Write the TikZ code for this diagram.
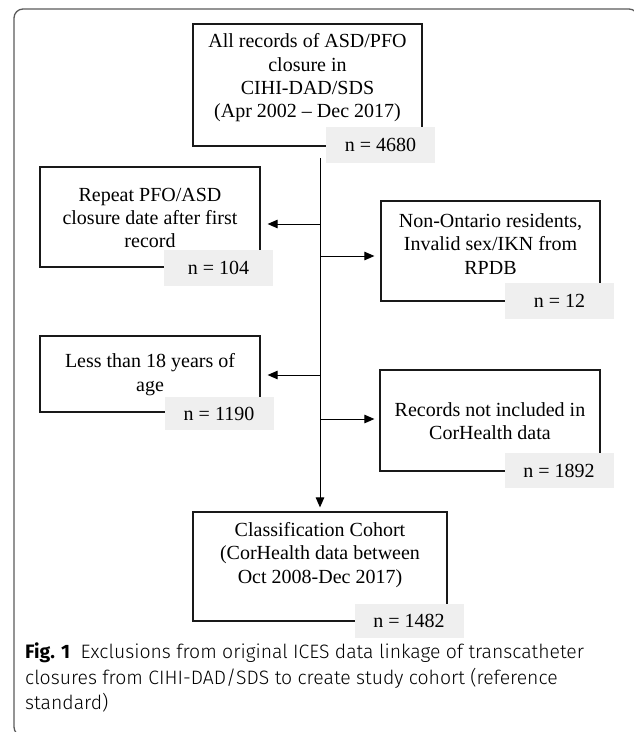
\documentclass[tikz,border=0pt]{standalone}
\usepackage{fontspec}
\setmainfont{Liberation Serif}
\IfFontExistsTF{Fira Sans Light}{\newfontfamily\capfont{Fira Sans Light}}{\newfontfamily\capfont{Fira Sans}}
\newfontfamily\capboldfont{Fira Sans}
\usetikzlibrary{arrows.meta}
\definecolor{nfill}{HTML}{EFEFEF}
\definecolor{framec}{HTML}{5A5A5A}
\begin{document}
\begin{tikzpicture}[x=1pt,y=-1pt,
  box/.style={draw=black!90,line width=1.2pt,minimum width=#1,inner sep=0pt},
  txt/.style={align=center,font=\fontsize{20}{23.3}\selectfont,inner sep=0pt},
  nbox/.style={fill=nfill,minimum width=109pt,minimum height=36pt,inner sep=0pt,font=\fontsize{20}{23}\selectfont},
  arr/.style={line width=1pt,-{Triangle[length=10pt,width=8.5pt]}}]
\useasboundingbox (0,0) rectangle (633,732);
% outer frame
\draw[framec,line width=1.3pt,rounded corners=9pt] (638,40) -- (638,9) -- (14,9) -- (14,736) -- (60,736);
% boxes
\node[box=229pt,minimum height=122pt] (top) at (307.5,85) {};
\node[txt] (topT) at (307.5,78) {All records of ASD/PFO\\closure in\\CIHI-DAD/SDS\\(Apr 2002 -- Dec 2017)};
\node[nbox] (ntop) at (380.5,145) {n = 4680};

\node[box=220pt,minimum height=100pt] (rep) at (150,217) {};
\node[txt] (repT) at (150,218) {Repeat PFO/ASD\\closure date after first\\record};
\node[nbox] (nrep) at (218.5,268) {n = 104};

\node[box=219pt,minimum height=100pt] (non) at (490.5,251) {};
\node[txt] (nonT) at (490.5,244) {Non-Ontario residents,\\Invalid sex/IKN from\\RPDB};
\node[nbox] (nnon) at (559.5,301) {n = 12};

\node[box=220pt,minimum height=76pt] (les) at (150,374) {};
\node[txt] (lesT) at (150,374.5) {Less than 18 years of\\age};
\node[nbox,minimum height=33pt] (nles) at (219,413.5) {n = 1190};

\node[box=220pt,minimum height=101pt] (rec) at (490,420.5) {};
\node[txt] (recT) at (490,421.5) {Records not included in\\CorHealth data};
\node[nbox,minimum height=35pt] (nrec) at (559,470.5) {n = 1892};

\node[box=254pt,minimum height=109pt] (cls) at (320,566.5) {};
\node[txt] (clsT) at (320,555) {Classification Cohort\\(CorHealth data between\\Oct 2008-Dec 2017)};
\node[nbox,minimum height=34pt] (ncls) at (409,621) {n = 1482};

% connectors
\coordinate (s0) at (320,158);
\coordinate (b1) at (320,224);
\coordinate (b2) at (320,256);
\coordinate (b3) at (320,375);
\coordinate (b4) at (320,419);
\draw[arr,shorten >=4pt] (s0) -- (cls.north);
\draw[arr,shorten >=7pt] (b1) -- (b1 -| rep.east);
\draw[arr,shorten >=6pt] (b2) -- (b2 -| non.west);
\draw[arr,shorten >=7pt] (b3) -- (b3 -| les.east);
\draw[arr,shorten >=5pt] (b4) -- (b4 -| rec.west);
% caption
\node[anchor=north west,align=left,inner sep=0pt,font=\capfont\fontsize{19.4}{25.5}\selectfont] (cap) at (25,643)
 {{\capboldfont\bfseries Fig. 1}\hspace{0.55em}Exclusions from original ICES data linkage of transcatheter\\closures from CIHI-DAD/SDS to create study cohort (reference\\standard)};
\end{tikzpicture}
\end{document}
